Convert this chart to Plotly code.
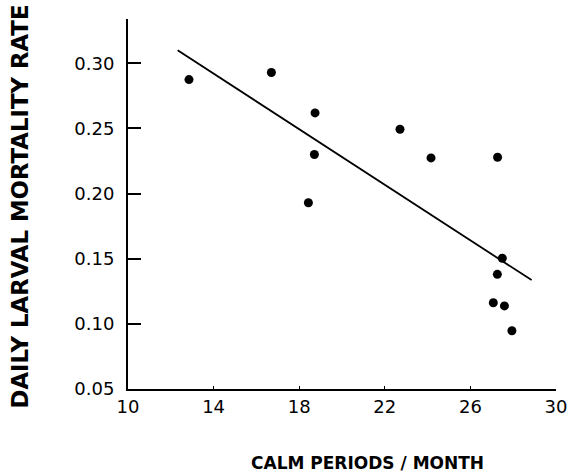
import plotly.graph_objects as go

# Data
calm_periods = [12.85, 16.70, 18.74, 18.71, 18.43, 22.71, 24.16, 27.27,
                27.49, 27.26, 27.07, 27.59, 27.94]
mortality_rate = [0.2875, 0.2929, 0.2619, 0.2300, 0.1930, 0.2494, 0.2274, 0.2279,
                  0.1504, 0.1380, 0.1162, 0.1138, 0.0947]

fit_x = [12.32, 28.86]
fit_y = [0.3100, 0.1336]

x_ticks = [10, 14, 18, 22, 26, 30]
y_ticks = [0.05, 0.10, 0.15, 0.20, 0.25, 0.30]
y_tick_labels = ["0.05", "0.10", "0.15", "0.20", "0.25", "0.30"]

x_title = "CALM PERIODS / MONTH"
y_title = "DAILY LARVAL MORTALITY RATE"

W, H = 569, 474
L, T = 128, 19
R = W - 556
B = H - 389

fig = go.Figure()
fig.add_trace(go.Scatter(x=fit_x, y=fit_y, mode="lines",
                         line=dict(color="black", width=1.8), hoverinfo="skip"))
fig.add_trace(go.Scatter(x=calm_periods, y=mortality_rate, mode="markers",
                         marker=dict(color="black", size=9, line=dict(width=0))))

tick_font = dict(family="DejaVu Sans", size=18, color="black")

fig.update_layout(
    width=W, height=H,
    margin=dict(l=L, r=R, t=T, b=B, pad=0),
    paper_bgcolor="white", plot_bgcolor="white",
    showlegend=False,
    xaxis=dict(range=[10, 30], tickvals=x_ticks, ticks="inside", ticklen=3,
               tickwidth=1, tickcolor="black", showline=True, linecolor="black",
               linewidth=2, showgrid=False, zeroline=False, tickfont=tick_font,
               automargin=False),
    yaxis=dict(range=[0.05, 0.334], tickvals=y_ticks, ticktext=y_tick_labels,
               ticks="inside", ticklen=13, tickwidth=2, tickcolor="black",
               showline=True, linecolor="black", linewidth=2, showgrid=False,
               zeroline=False, tickfont=tick_font, automargin=False,
               ticklabelstandoff=8),
)

pw = W - L - R
ph = H - T - B
fig.add_annotation(text=x_title, xref="paper", yref="paper",
                   x=(367 - L) / pw, y=-(H - (H - B)) / ph,
                   xanchor="center", yanchor="bottom", showarrow=False, borderpad=0,
                   font=dict(family="DejaVu Sans", size=17, color="black", weight="bold"))
fig.add_annotation(text=y_title, xref="paper", yref="paper",
                   x=(19 - L) / pw, y=1 - (206.5 - T) / ph,
                   xanchor="center", yanchor="middle", showarrow=False, textangle=-90,
                   font=dict(family="DejaVu Sans", size=22.8, color="black", weight="bold"))

fig.write_html("out.html", config={"displayModeBar": False},
               post_script="document.body.style.margin='0';document.body.style.overflow='hidden';")
